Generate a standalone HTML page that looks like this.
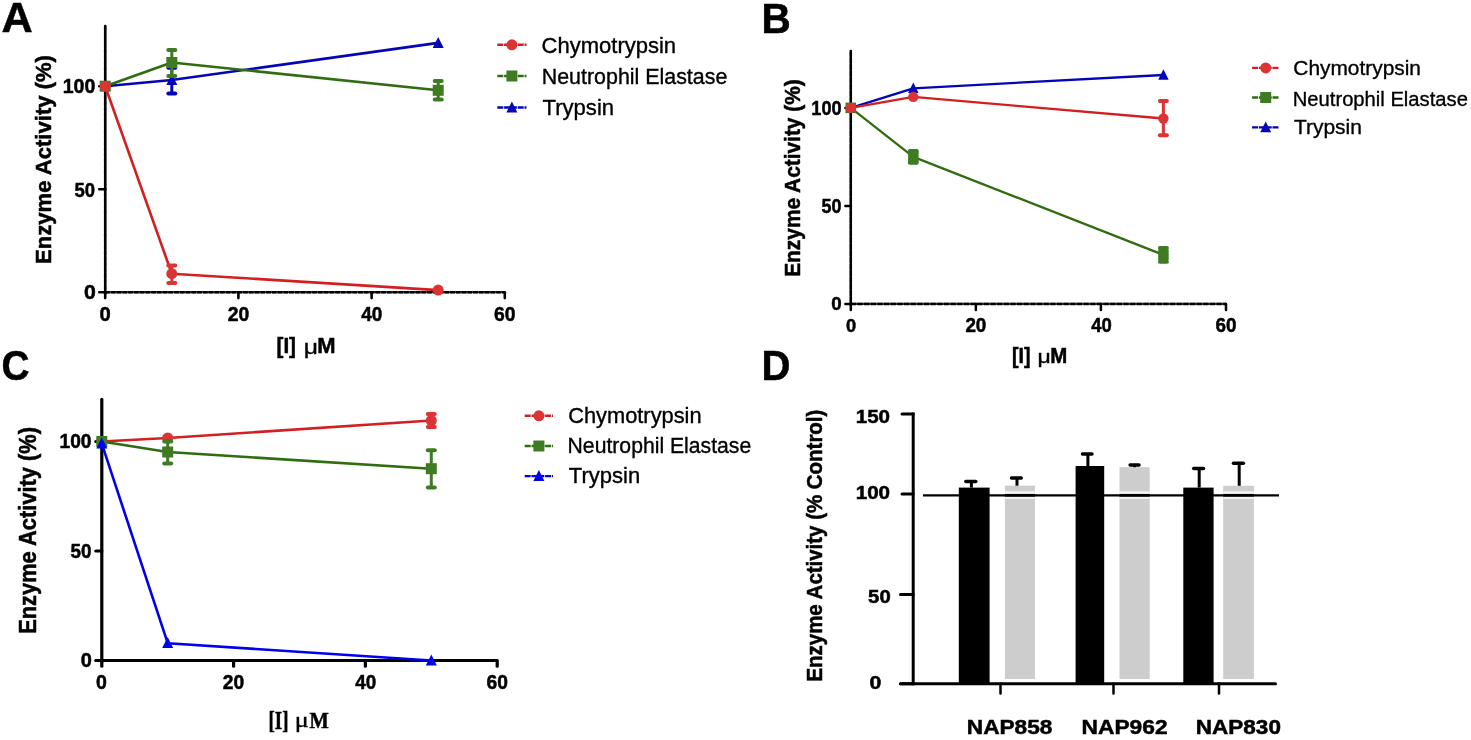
<!DOCTYPE html><html><head><meta charset="utf-8"><style>html,body{margin:0;padding:0;background:#fff;overflow:hidden;}svg{display:block;font-family:"Liberation Sans",sans-serif;filter:blur(0.35px);}</style></head><body>
<svg width="1471" height="740" viewBox="0 0 1471 740">
<rect width="1471" height="740" fill="#fff"/>
<text x="1.57" y="32.45" font-size="42.61" font-weight="bold" fill="#000" stroke="#000" stroke-width="0.5" textLength="31.26" lengthAdjust="spacingAndGlyphs">A</text>
<text x="761.52" y="32.65" font-size="42.61" font-weight="bold" fill="#000" stroke="#000" stroke-width="0.5" textLength="29.24" lengthAdjust="spacingAndGlyphs">B</text>
<text x="1.40" y="380.42" font-size="42.82" font-weight="bold" fill="#000" stroke="#000" stroke-width="0.5" textLength="28.01" lengthAdjust="spacingAndGlyphs">C</text>
<text x="761.54" y="379.65" font-size="42.46" font-weight="bold" fill="#000" stroke="#000" stroke-width="0.5" textLength="29.00" lengthAdjust="spacingAndGlyphs">D</text>
<line x1="105.2" y1="26.1" x2="105.2" y2="293.5" stroke="#333" stroke-width="2.21" stroke-linecap="round" />
<line x1="105.2" y1="292.2" x2="504.8" y2="292.2" stroke="#333" stroke-width="2.21" stroke-linecap="butt" />
<line x1="105.2" y1="26.1" x2="105.2" y2="293.5" stroke="#000" stroke-width="2.6" stroke-linecap="round" stroke-dasharray="4.6 1.15"/>
<line x1="105.2" y1="292.2" x2="504.8" y2="292.2" stroke="#000" stroke-width="2.6" stroke-linecap="butt" stroke-dasharray="4.6 1.15"/>
<line x1="99.3" y1="292.2" x2="105.2" y2="292.2" stroke="#000" stroke-width="2.6" stroke-linecap="round" />
<line x1="99.3" y1="189.2" x2="105.2" y2="189.2" stroke="#000" stroke-width="2.6" stroke-linecap="round" />
<line x1="99.3" y1="86.2" x2="105.2" y2="86.2" stroke="#000" stroke-width="2.6" stroke-linecap="round" />
<line x1="105.2" y1="292.2" x2="105.2" y2="298.1" stroke="#000" stroke-width="2.6" stroke-linecap="round" />
<line x1="238.4" y1="292.2" x2="238.4" y2="298.1" stroke="#000" stroke-width="2.6" stroke-linecap="round" />
<line x1="371.6" y1="292.2" x2="371.6" y2="298.1" stroke="#000" stroke-width="2.6" stroke-linecap="round" />
<line x1="504.8" y1="292.2" x2="504.8" y2="298.1" stroke="#000" stroke-width="2.6" stroke-linecap="round" />
<polyline points="105.2,86.2 171.8,80.0 438.2,42.9" fill="none" stroke="#0505b8" stroke-width="2.6" stroke-linejoin="round"/>
<polygon points="105.2,80.1 110.7,91.1 99.7,91.1" fill="#0505b8"/>
<line x1="171.8" y1="93.4" x2="171.8" y2="67.7" stroke="#0505b8" stroke-width="3" stroke-linecap="butt" />
<line x1="168.3" y1="93.4" x2="175.3" y2="93.4" stroke="#0505b8" stroke-width="4" stroke-linecap="round" />
<line x1="168.3" y1="67.7" x2="175.3" y2="67.7" stroke="#0505b8" stroke-width="4" stroke-linecap="round" />
<polygon points="171.8,74.0 177.3,85.0 166.3,85.0" fill="#0505b8"/>
<polygon points="438.2,36.9 443.7,47.9 432.7,47.9" fill="#0505b8"/>
<polyline points="105.2,86.2 171.8,62.5 438.2,90.3" fill="none" stroke="#306c10" stroke-width="2.6" stroke-linejoin="round"/>
<rect x="99.7" y="80.7" width="11.0" height="11.0" fill="#3e7b22"/>
<line x1="171.8" y1="75.9" x2="171.8" y2="50.1" stroke="#3e7b22" stroke-width="3" stroke-linecap="butt" />
<line x1="168.3" y1="75.9" x2="175.3" y2="75.9" stroke="#3e7b22" stroke-width="4" stroke-linecap="round" />
<line x1="168.3" y1="50.1" x2="175.3" y2="50.1" stroke="#3e7b22" stroke-width="4" stroke-linecap="round" />
<rect x="166.3" y="57.0" width="11.0" height="11.0" fill="#3e7b22"/>
<line x1="438.2" y1="99.6" x2="438.2" y2="81.0" stroke="#3e7b22" stroke-width="3" stroke-linecap="butt" />
<line x1="434.7" y1="99.6" x2="441.7" y2="99.6" stroke="#3e7b22" stroke-width="4" stroke-linecap="round" />
<line x1="434.7" y1="81.0" x2="441.7" y2="81.0" stroke="#3e7b22" stroke-width="4" stroke-linecap="round" />
<rect x="432.7" y="84.8" width="11.0" height="11.0" fill="#3e7b22"/>
<polyline points="105.2,86.2 171.8,273.7 438.2,290.1" fill="none" stroke="#d41f22" stroke-width="2.6" stroke-linejoin="round"/>
<circle cx="105.2" cy="86.2" r="5.5" fill="#dc3434"/>
<line x1="171.8" y1="282.9" x2="171.8" y2="265.4" stroke="#dc3434" stroke-width="3" stroke-linecap="butt" />
<line x1="168.3" y1="282.9" x2="175.3" y2="282.9" stroke="#dc3434" stroke-width="4" stroke-linecap="round" />
<line x1="168.3" y1="265.4" x2="175.3" y2="265.4" stroke="#dc3434" stroke-width="4" stroke-linecap="round" />
<circle cx="171.8" cy="273.7" r="5.5" fill="#dc3434"/>
<circle cx="438.2" cy="290.1" r="5.5" fill="#dc3434"/>
<line x1="497.3" y1="44.8" x2="526.5" y2="44.8" stroke="#d41f22" stroke-width="2.4" stroke-linecap="butt" stroke-dasharray="6 0.8"/>
<circle cx="511.9" cy="44.8" r="5.5" fill="#dc3434"/>
<line x1="497.3" y1="76.0" x2="526.5" y2="76.0" stroke="#306c10" stroke-width="2.4" stroke-linecap="butt" stroke-dasharray="6 0.8"/>
<rect x="506.4" y="70.5" width="11.0" height="11.0" fill="#3e7b22"/>
<line x1="497.3" y1="107.5" x2="526.5" y2="107.5" stroke="#0505b8" stroke-width="2.4" stroke-linecap="butt" stroke-dasharray="6 0.8"/>
<polygon points="511.9,101.5 517.4,112.5 506.4,112.5" fill="#0505b8"/>
<text x="62.68" y="93.05" font-size="20.28" font-weight="bold" fill="#000" stroke="#000" stroke-width="0.5" textLength="32.62" lengthAdjust="spacingAndGlyphs">100</text>
<text x="74.50" y="196.85" font-size="19.58" font-weight="bold" fill="#000" stroke="#000" stroke-width="0.5" textLength="20.54" lengthAdjust="spacingAndGlyphs">50</text>
<text x="84.00" y="299.05" font-size="19.72" font-weight="bold" fill="#000" stroke="#000" stroke-width="0.5" textLength="11.83" lengthAdjust="spacingAndGlyphs">0</text>
<text x="99.44" y="320.75" font-size="20.14" font-weight="bold" fill="#000" stroke="#000" stroke-width="0.5" textLength="11.24" lengthAdjust="spacingAndGlyphs">0</text>
<text x="227.72" y="320.95" font-size="20.28" font-weight="bold" fill="#000" stroke="#000" stroke-width="0.5" textLength="21.49" lengthAdjust="spacingAndGlyphs">20</text>
<text x="361.32" y="320.95" font-size="20.28" font-weight="bold" fill="#000" stroke="#000" stroke-width="0.5" textLength="21.09" lengthAdjust="spacingAndGlyphs">40</text>
<text x="494.12" y="320.95" font-size="20.28" font-weight="bold" fill="#000" stroke="#000" stroke-width="0.5" textLength="21.49" lengthAdjust="spacingAndGlyphs">60</text>
<text x="0.00" y="0.00" font-size="22.75" font-weight="bold" fill="#000" stroke="#000" stroke-width="0.5" textLength="208.84" lengthAdjust="spacingAndGlyphs" transform="translate(50.65,263.88) rotate(-90)">Enzyme Activity (%)</text>
<text x="276.52" y="353.45" font-size="22.17" font-weight="bold" fill="#000" stroke="#000" stroke-width="0.5" textLength="19.45" lengthAdjust="spacingAndGlyphs">[I]</text>
<text x="303.77" y="354.04" font-size="19.93" font-weight="normal" fill="#000" stroke="#000" stroke-width="0.35" textLength="14.21" lengthAdjust="spacingAndGlyphs">μ</text>
<text x="317.22" y="353.45" font-size="22.17" font-weight="bold" fill="#000" stroke="#000" stroke-width="0.5" textLength="18.33" lengthAdjust="spacingAndGlyphs">M</text>
<text x="541.57" y="52.93" font-size="21.52" font-weight="normal" fill="#000" stroke="#000" stroke-width="0.35" textLength="134.55" lengthAdjust="spacingAndGlyphs">Chymotrypsin</text>
<text x="541.76" y="83.62" font-size="21.52" font-weight="normal" fill="#000" stroke="#000" stroke-width="0.35" textLength="185.56" lengthAdjust="spacingAndGlyphs">Neutrophil Elastase</text>
<text x="542.53" y="114.53" font-size="21.52" font-weight="normal" fill="#000" stroke="#000" stroke-width="0.35" textLength="71.56" lengthAdjust="spacingAndGlyphs">Trypsin</text>
<line x1="850.8" y1="51.1" x2="850.8" y2="305.1" stroke="#333" stroke-width="2.125" stroke-linecap="round" />
<line x1="850.8" y1="303.9" x2="1226.0" y2="303.9" stroke="#333" stroke-width="2.125" stroke-linecap="butt" />
<line x1="850.8" y1="51.1" x2="850.8" y2="305.1" stroke="#000" stroke-width="2.5" stroke-linecap="round" stroke-dasharray="5.2 1.45"/>
<line x1="850.8" y1="303.9" x2="1226.0" y2="303.9" stroke="#000" stroke-width="2.5" stroke-linecap="butt" stroke-dasharray="5.2 1.45"/>
<line x1="845.4" y1="303.9" x2="850.8" y2="303.9" stroke="#000" stroke-width="2.5" stroke-linecap="round" />
<line x1="845.4" y1="205.9" x2="850.8" y2="205.9" stroke="#000" stroke-width="2.5" stroke-linecap="round" />
<line x1="845.4" y1="107.9" x2="850.8" y2="107.9" stroke="#000" stroke-width="2.5" stroke-linecap="round" />
<line x1="850.8" y1="303.9" x2="850.8" y2="309.9" stroke="#000" stroke-width="2.5" stroke-linecap="round" />
<line x1="975.9" y1="303.9" x2="975.9" y2="309.9" stroke="#000" stroke-width="2.5" stroke-linecap="round" />
<line x1="1100.9" y1="303.9" x2="1100.9" y2="309.9" stroke="#000" stroke-width="2.5" stroke-linecap="round" />
<line x1="1226.0" y1="303.9" x2="1226.0" y2="309.9" stroke="#000" stroke-width="2.5" stroke-linecap="round" />
<polyline points="850.8,107.9 913.3,88.3 1163.4,75.0" fill="none" stroke="#0505b8" stroke-width="2.3" stroke-linejoin="round"/>
<polygon points="850.8,102.1 856.0,112.6 845.5,112.6" fill="#0505b8"/>
<polygon points="913.3,82.5 918.6,93.0 908.1,93.0" fill="#0505b8"/>
<polygon points="1163.4,69.2 1168.7,79.7 1158.2,79.7" fill="#0505b8"/>
<polyline points="850.8,107.9 913.3,156.9 1163.4,254.9" fill="none" stroke="#306c10" stroke-width="2.3" stroke-linejoin="round"/>
<rect x="845.5" y="102.6" width="10.5" height="10.5" fill="#3e7b22"/>
<line x1="913.3" y1="162.8" x2="913.3" y2="151.0" stroke="#3e7b22" stroke-width="3" stroke-linecap="butt" />
<line x1="909.8" y1="162.8" x2="916.8" y2="162.8" stroke="#3e7b22" stroke-width="4" stroke-linecap="round" />
<line x1="909.8" y1="151.0" x2="916.8" y2="151.0" stroke="#3e7b22" stroke-width="4" stroke-linecap="round" />
<rect x="908.1" y="151.6" width="10.5" height="10.5" fill="#3e7b22"/>
<line x1="1163.4" y1="261.8" x2="1163.4" y2="248.0" stroke="#3e7b22" stroke-width="3" stroke-linecap="butt" />
<line x1="1159.9" y1="261.8" x2="1166.9" y2="261.8" stroke="#3e7b22" stroke-width="4" stroke-linecap="round" />
<line x1="1159.9" y1="248.0" x2="1166.9" y2="248.0" stroke="#3e7b22" stroke-width="4" stroke-linecap="round" />
<rect x="1158.2" y="249.6" width="10.5" height="10.5" fill="#3e7b22"/>
<polyline points="850.8,107.9 913.3,96.9 1163.4,118.5" fill="none" stroke="#d41f22" stroke-width="2.3" stroke-linejoin="round"/>
<circle cx="850.8" cy="107.9" r="5.2" fill="#dc3434"/>
<circle cx="913.3" cy="96.9" r="5.2" fill="#dc3434"/>
<line x1="1163.4" y1="135.3" x2="1163.4" y2="101.0" stroke="#dc3434" stroke-width="3" stroke-linecap="butt" />
<line x1="1159.9" y1="135.3" x2="1166.9" y2="135.3" stroke="#dc3434" stroke-width="4" stroke-linecap="round" />
<line x1="1159.9" y1="101.0" x2="1166.9" y2="101.0" stroke="#dc3434" stroke-width="4" stroke-linecap="round" />
<circle cx="1163.4" cy="118.5" r="5.2" fill="#dc3434"/>
<line x1="1252.1" y1="67.9" x2="1279.3" y2="67.9" stroke="#d41f22" stroke-width="2.4" stroke-linecap="butt" stroke-dasharray="6 0.8"/>
<circle cx="1265.7" cy="67.9" r="5.5" fill="#dc3434"/>
<line x1="1252.1" y1="97.5" x2="1279.3" y2="97.5" stroke="#306c10" stroke-width="2.4" stroke-linecap="butt" stroke-dasharray="6 0.8"/>
<rect x="1260.2" y="92.0" width="11.0" height="11.0" fill="#3e7b22"/>
<line x1="1252.1" y1="127.4" x2="1279.3" y2="127.4" stroke="#0505b8" stroke-width="2.4" stroke-linecap="butt" stroke-dasharray="6 0.8"/>
<polygon points="1265.7,121.4 1271.2,132.3 1260.2,132.3" fill="#0505b8"/>
<text x="811.37" y="115.15" font-size="19.72" font-weight="bold" fill="#000" stroke="#000" stroke-width="0.5" textLength="30.17" lengthAdjust="spacingAndGlyphs">100</text>
<text x="821.61" y="213.45" font-size="19.58" font-weight="bold" fill="#000" stroke="#000" stroke-width="0.5" textLength="19.89" lengthAdjust="spacingAndGlyphs">50</text>
<text x="831.30" y="309.86" font-size="18.87" font-weight="bold" fill="#000" stroke="#000" stroke-width="0.5" textLength="10.42" lengthAdjust="spacingAndGlyphs">0</text>
<text x="846.02" y="331.76" font-size="19.01" font-weight="bold" fill="#000" stroke="#000" stroke-width="0.5" textLength="10.19" lengthAdjust="spacingAndGlyphs">0</text>
<text x="965.39" y="331.75" font-size="19.58" font-weight="bold" fill="#000" stroke="#000" stroke-width="0.5" textLength="20.96" lengthAdjust="spacingAndGlyphs">20</text>
<text x="1091.27" y="331.75" font-size="19.58" font-weight="bold" fill="#000" stroke="#000" stroke-width="0.5" textLength="20.56" lengthAdjust="spacingAndGlyphs">40</text>
<text x="1215.59" y="331.75" font-size="19.58" font-weight="bold" fill="#000" stroke="#000" stroke-width="0.5" textLength="20.96" lengthAdjust="spacingAndGlyphs">60</text>
<text x="0.00" y="0.00" font-size="21.16" font-weight="bold" fill="#000" stroke="#000" stroke-width="0.5" textLength="197.51" lengthAdjust="spacingAndGlyphs" transform="translate(800.15,276.81) rotate(-90)">Enzyme Activity (%)</text>
<text x="1012.07" y="362.85" font-size="21.30" font-weight="bold" fill="#000" stroke="#000" stroke-width="0.5" textLength="18.54" lengthAdjust="spacingAndGlyphs">[I]</text>
<text x="1050.32" y="362.85" font-size="21.30" font-weight="bold" fill="#000" stroke="#000" stroke-width="0.5" textLength="17.02" lengthAdjust="spacingAndGlyphs">M</text>
<text x="1037.48" y="362.90" font-size="19.10" font-weight="normal" fill="#000" stroke="#000" stroke-width="0.35" textLength="13.29" lengthAdjust="spacingAndGlyphs">μ</text>
<text x="1293.33" y="74.73" font-size="20.22" font-weight="normal" fill="#000" stroke="#000" stroke-width="0.35" textLength="127.61" lengthAdjust="spacingAndGlyphs">Chymotrypsin</text>
<text x="1292.76" y="105.83" font-size="20.51" font-weight="normal" fill="#000" stroke="#000" stroke-width="0.35" textLength="175.11" lengthAdjust="spacingAndGlyphs">Neutrophil Elastase</text>
<text x="1293.96" y="134.32" font-size="20.36" font-weight="normal" fill="#000" stroke="#000" stroke-width="0.35" textLength="67.96" lengthAdjust="spacingAndGlyphs">Trypsin</text>
<line x1="101.8" y1="399.4" x2="101.8" y2="662.1" stroke="#000" stroke-width="3.2" stroke-linecap="round" />
<line x1="101.8" y1="660.5" x2="497.2" y2="660.5" stroke="#000" stroke-width="3.2" stroke-linecap="butt" />
<line x1="95.8" y1="660.5" x2="101.8" y2="660.5" stroke="#000" stroke-width="3.2" stroke-linecap="round" />
<line x1="95.8" y1="551.0" x2="101.8" y2="551.0" stroke="#000" stroke-width="3.2" stroke-linecap="round" />
<line x1="95.8" y1="441.5" x2="101.8" y2="441.5" stroke="#000" stroke-width="3.2" stroke-linecap="round" />
<line x1="101.8" y1="660.5" x2="101.8" y2="666.2" stroke="#000" stroke-width="3.2" stroke-linecap="round" />
<line x1="233.6" y1="660.5" x2="233.6" y2="666.2" stroke="#000" stroke-width="3.2" stroke-linecap="round" />
<line x1="365.4" y1="660.5" x2="365.4" y2="666.2" stroke="#000" stroke-width="3.2" stroke-linecap="round" />
<line x1="497.2" y1="660.5" x2="497.2" y2="666.2" stroke="#000" stroke-width="3.2" stroke-linecap="round" />
<polyline points="101.8,441.5 167.7,438.0 431.3,420.5" fill="none" stroke="#d41f22" stroke-width="2.6" stroke-linejoin="round"/>
<circle cx="101.8" cy="441.5" r="5.5" fill="#dc3434"/>
<circle cx="167.7" cy="438.0" r="5.5" fill="#dc3434"/>
<line x1="431.3" y1="427.0" x2="431.3" y2="413.9" stroke="#dc3434" stroke-width="3" stroke-linecap="butt" />
<line x1="427.8" y1="427.0" x2="434.8" y2="427.0" stroke="#dc3434" stroke-width="4" stroke-linecap="round" />
<line x1="427.8" y1="413.9" x2="434.8" y2="413.9" stroke="#dc3434" stroke-width="4" stroke-linecap="round" />
<circle cx="431.3" cy="420.5" r="5.5" fill="#dc3434"/>
<polyline points="101.8,441.5 167.7,452.0 431.3,468.7" fill="none" stroke="#306c10" stroke-width="2.6" stroke-linejoin="round"/>
<rect x="96.3" y="436.0" width="11.0" height="11.0" fill="#3e7b22"/>
<line x1="167.7" y1="463.4" x2="167.7" y2="441.5" stroke="#3e7b22" stroke-width="3" stroke-linecap="butt" />
<line x1="164.2" y1="463.4" x2="171.2" y2="463.4" stroke="#3e7b22" stroke-width="4" stroke-linecap="round" />
<line x1="164.2" y1="441.5" x2="171.2" y2="441.5" stroke="#3e7b22" stroke-width="4" stroke-linecap="round" />
<rect x="162.2" y="446.5" width="11.0" height="11.0" fill="#3e7b22"/>
<line x1="431.3" y1="487.5" x2="431.3" y2="450.3" stroke="#3e7b22" stroke-width="3" stroke-linecap="butt" />
<line x1="427.8" y1="487.5" x2="434.8" y2="487.5" stroke="#3e7b22" stroke-width="4" stroke-linecap="round" />
<line x1="427.8" y1="450.3" x2="434.8" y2="450.3" stroke="#3e7b22" stroke-width="4" stroke-linecap="round" />
<rect x="425.8" y="463.2" width="11.0" height="11.0" fill="#3e7b22"/>
<polyline points="101.8,443.7 167.7,643.2 431.3,660.5" fill="none" stroke="#0000f0" stroke-width="2.6" stroke-linejoin="round"/>
<polygon points="101.8,437.6 107.3,448.6 96.3,448.6" fill="#0000f0"/>
<polygon points="167.7,637.1 173.2,648.1 162.2,648.1" fill="#0000f0"/>
<polygon points="431.3,654.5 436.8,665.5 425.8,665.5" fill="#0000f0"/>
<line x1="524.7" y1="415.8" x2="553.0" y2="415.8" stroke="#d41f22" stroke-width="2.4" stroke-linecap="butt" stroke-dasharray="6 0.8"/>
<circle cx="538.9" cy="415.8" r="5.5" fill="#dc3434"/>
<line x1="524.7" y1="446.0" x2="553.0" y2="446.0" stroke="#306c10" stroke-width="2.4" stroke-linecap="butt" stroke-dasharray="6 0.8"/>
<rect x="533.4" y="440.5" width="11.0" height="11.0" fill="#3e7b22"/>
<line x1="524.7" y1="476.1" x2="553.0" y2="476.1" stroke="#0000f0" stroke-width="2.4" stroke-linecap="butt" stroke-dasharray="6 0.8"/>
<polygon points="538.9,470.1 544.4,481.1 533.4,481.1" fill="#0000f0"/>
<text x="59.50" y="448.15" font-size="19.86" font-weight="bold" fill="#000" stroke="#000" stroke-width="0.5" textLength="31.98" lengthAdjust="spacingAndGlyphs">100</text>
<text x="70.58" y="557.95" font-size="20.28" font-weight="bold" fill="#000" stroke="#000" stroke-width="0.5" textLength="20.96" lengthAdjust="spacingAndGlyphs">50</text>
<text x="80.65" y="667.15" font-size="20.14" font-weight="bold" fill="#000" stroke="#000" stroke-width="0.5" textLength="11.12" lengthAdjust="spacingAndGlyphs">0</text>
<text x="96.07" y="689.15" font-size="20.28" font-weight="bold" fill="#000" stroke="#000" stroke-width="0.5" textLength="10.89" lengthAdjust="spacingAndGlyphs">0</text>
<text x="222.78" y="688.95" font-size="20.14" font-weight="bold" fill="#000" stroke="#000" stroke-width="0.5" textLength="21.39" lengthAdjust="spacingAndGlyphs">20</text>
<text x="355.17" y="688.95" font-size="20.14" font-weight="bold" fill="#000" stroke="#000" stroke-width="0.5" textLength="20.98" lengthAdjust="spacingAndGlyphs">40</text>
<text x="486.58" y="688.95" font-size="20.14" font-weight="bold" fill="#000" stroke="#000" stroke-width="0.5" textLength="21.39" lengthAdjust="spacingAndGlyphs">60</text>
<text x="0.00" y="0.00" font-size="23.19" font-weight="bold" fill="#000" stroke="#000" stroke-width="0.5" textLength="206.82" lengthAdjust="spacingAndGlyphs" transform="translate(36.35,633.87) rotate(-90)">Enzyme Activity (%)</text>
<text x="268.53" y="728.75" font-size="24.46" font-weight="bold" font-family='"Liberation Serif",serif' fill="#000" stroke="#000" stroke-width="0.5" textLength="19.94" lengthAdjust="spacingAndGlyphs">[I]</text>
<text x="309.54" y="727.55" font-size="22.44" font-weight="bold" font-family='"Liberation Serif",serif' fill="#000" stroke="#000" stroke-width="0.5" textLength="19.30" lengthAdjust="spacingAndGlyphs">M</text>
<text x="294.78" y="727.22" font-size="21.41" font-weight="normal" font-family='"Liberation Serif",serif' fill="#000" stroke="#000" stroke-width="0.35" textLength="14.02" lengthAdjust="spacingAndGlyphs">μ</text>
<text x="568.18" y="422.72" font-size="21.52" font-weight="normal" fill="#000" stroke="#000" stroke-width="0.35" textLength="133.42" lengthAdjust="spacingAndGlyphs">Chymotrypsin</text>
<text x="567.58" y="453.32" font-size="21.52" font-weight="normal" fill="#000" stroke="#000" stroke-width="0.35" textLength="183.63" lengthAdjust="spacingAndGlyphs">Neutrophil Elastase</text>
<text x="568.83" y="483.12" font-size="21.52" font-weight="normal" fill="#000" stroke="#000" stroke-width="0.35" textLength="71.35" lengthAdjust="spacingAndGlyphs">Trypsin</text>
<line x1="913.2" y1="412.6" x2="913.2" y2="685.3" stroke="#000" stroke-width="3" stroke-linecap="butt" />
<line x1="902.0" y1="414.1" x2="913.2" y2="414.1" stroke="#000" stroke-width="3" stroke-linecap="round" />
<line x1="902.0" y1="494.0" x2="913.2" y2="494.0" stroke="#000" stroke-width="3" stroke-linecap="round" />
<line x1="900.5" y1="594.6" x2="913.2" y2="594.6" stroke="#000" stroke-width="3" stroke-linecap="round" />
<line x1="900.5" y1="683.8" x2="913.2" y2="683.8" stroke="#000" stroke-width="3" stroke-linecap="round" />
<text x="855.72" y="423.36" font-size="19.15" font-weight="bold" fill="#000" stroke="#000" stroke-width="0.5" textLength="34.33" lengthAdjust="spacingAndGlyphs">150</text>
<text x="855.72" y="499.17" font-size="18.17" font-weight="bold" fill="#000" stroke="#000" stroke-width="0.5" textLength="34.33" lengthAdjust="spacingAndGlyphs">100</text>
<text x="868.14" y="603.37" font-size="18.45" font-weight="bold" fill="#000" stroke="#000" stroke-width="0.5" textLength="22.57" lengthAdjust="spacingAndGlyphs">50</text>
<text x="869.60" y="689.16" font-size="19.15" font-weight="bold" fill="#000" stroke="#000" stroke-width="0.5" textLength="11.83" lengthAdjust="spacingAndGlyphs">0</text>
<text x="0.00" y="0.00" font-size="21.59" font-weight="bold" fill="#000" stroke="#000" stroke-width="0.5" textLength="271.91" lengthAdjust="spacingAndGlyphs" transform="translate(821.55,681.58) rotate(-90)">Enzyme Activity (% Control)</text>
<rect x="958.8" y="487.6" width="30.8" height="196.2" fill="#000"/>
<rect x="1004.9" y="485.7" width="30.1" height="193.3" fill="#cdcdcd"/>
<rect x="1075.6" y="466.0" width="28.6" height="217.8" fill="#000"/>
<rect x="1119.5" y="467.2" width="30.2" height="211.8" fill="#cdcdcd"/>
<rect x="1183.3" y="487.6" width="30.3" height="196.2" fill="#000"/>
<rect x="1223.2" y="485.8" width="30.7" height="193.2" fill="#cdcdcd"/>
<rect x="1004.9" y="491.3" width="30.1" height="7.6" fill="#f4f4f4"/>
<rect x="1119.5" y="491.3" width="30.2" height="7.6" fill="#f4f4f4"/>
<rect x="1223.2" y="491.3" width="30.7" height="7.6" fill="#f4f4f4"/>
<line x1="923.0" y1="495.3" x2="1279.0" y2="495.3" stroke="#000" stroke-width="2.2" stroke-linecap="butt" />
<line x1="1004.9" y1="495.3" x2="1035.0" y2="495.3" stroke="#000" stroke-width="2.7" stroke-linecap="butt" />
<line x1="1119.5" y1="495.3" x2="1149.7" y2="495.3" stroke="#000" stroke-width="2.7" stroke-linecap="butt" />
<line x1="1223.2" y1="495.3" x2="1253.9" y2="495.3" stroke="#000" stroke-width="2.7" stroke-linecap="butt" />
<line x1="971.4" y1="481.4" x2="971.4" y2="487.6" stroke="#000" stroke-width="3" stroke-linecap="butt" />
<line x1="965.8" y1="481.4" x2="975.8" y2="481.4" stroke="#000" stroke-width="3.5" stroke-linecap="round" />
<line x1="1017.0" y1="478.0" x2="1017.0" y2="485.7" stroke="#000" stroke-width="3" stroke-linecap="butt" />
<line x1="1011.5" y1="478.0" x2="1021.2" y2="478.0" stroke="#000" stroke-width="3.5" stroke-linecap="round" />
<line x1="1087.9" y1="454.0" x2="1087.9" y2="466.0" stroke="#000" stroke-width="3" stroke-linecap="butt" />
<line x1="1082.5" y1="454.0" x2="1092.0" y2="454.0" stroke="#000" stroke-width="3.5" stroke-linecap="round" />
<line x1="1134.5" y1="465.0" x2="1134.5" y2="467.2" stroke="#000" stroke-width="3" stroke-linecap="butt" />
<line x1="1130.1" y1="465.0" x2="1139.0" y2="465.0" stroke="#000" stroke-width="3.5" stroke-linecap="round" />
<line x1="1199.2" y1="468.6" x2="1199.2" y2="487.6" stroke="#000" stroke-width="3" stroke-linecap="butt" />
<line x1="1193.7" y1="468.6" x2="1203.5" y2="468.6" stroke="#000" stroke-width="3.5" stroke-linecap="round" />
<line x1="1239.2" y1="463.2" x2="1239.2" y2="485.8" stroke="#000" stroke-width="3" stroke-linecap="butt" />
<line x1="1233.5" y1="463.2" x2="1243.4" y2="463.2" stroke="#000" stroke-width="3.5" stroke-linecap="round" />
<line x1="900.5" y1="683.8" x2="1275.5" y2="683.8" stroke="#000" stroke-width="3" stroke-linecap="round" />
<line x1="1000.5" y1="683.8" x2="1000.5" y2="693.4" stroke="#000" stroke-width="2.5" stroke-linecap="round" />
<line x1="1113.5" y1="683.8" x2="1113.5" y2="693.4" stroke="#000" stroke-width="2.5" stroke-linecap="round" />
<line x1="1219.0" y1="683.8" x2="1219.0" y2="693.4" stroke="#000" stroke-width="2.5" stroke-linecap="round" />
<text x="966.78" y="733.95" font-size="20.42" font-weight="bold" fill="#000" stroke="#000" stroke-width="0.5" textLength="85.65" lengthAdjust="spacingAndGlyphs">NAP858</text>
<text x="1081.57" y="733.95" font-size="20.42" font-weight="bold" fill="#000" stroke="#000" stroke-width="0.5" textLength="85.99" lengthAdjust="spacingAndGlyphs">NAP962</text>
<text x="1195.79" y="733.95" font-size="20.42" font-weight="bold" fill="#000" stroke="#000" stroke-width="0.5" textLength="85.16" lengthAdjust="spacingAndGlyphs">NAP830</text>
</svg></body></html>
